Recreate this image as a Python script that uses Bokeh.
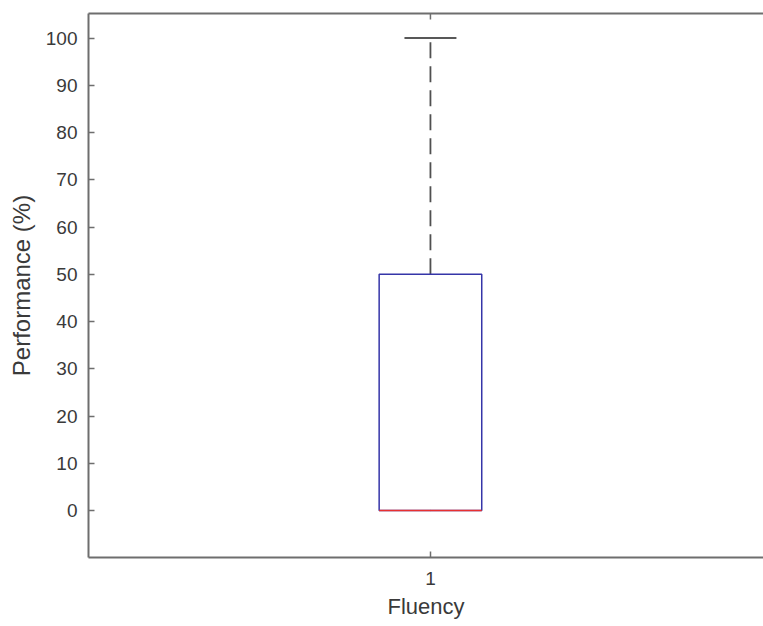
from bokeh.plotting import figure
from bokeh.models import Range1d, LinearAxis, FixedTicker
from bokeh.embed import file_html
from bokeh.resources import INLINE

# ---- data ----
categories = [1]
group_labels = ["1"]
q1 = [0]
median = [0]
q3 = [50]
lower_whisker = [0]
upper_whisker = [100]
y_ticks = [0, 10, 20, 30, 40, 50, 60, 70, 80, 90, 100]

box_half = 0.075
cap_half = 0.038

FONT = "Liberation Sans"
AX_COL = "#6e6e6e"
TXT_COL = "#3a3a3a"

W, H = 763, 626
BL, BR, BT, BB = 88, 0, 13, 69
Y0, Y1 = -9.95, 105.2

p = figure(width=W, height=H, output_backend="svg", toolbar_location=None,
           x_range=Range1d(0.5, 1.487), y_range=Range1d(Y0, Y1),
           min_border_left=BL, min_border_right=BR, min_border_top=BT,
           min_border_bottom=BB)
p.outline_line_color = None
p.grid.visible = False
p.background_fill_color = "white"
p.border_fill_color = "white"

xs = categories
# whiskers and caps
p.segment(x0=xs, x1=xs, y0=lower_whisker, y1=q1, line_color="#454545",
          line_width=1.8, line_dash="16 8")
p.segment(x0=xs, x1=xs, y0=q3, y1=upper_whisker, line_color="#505050",
          line_width=1.8, line_dash="16 8")
p.segment(x0=[x - cap_half for x in xs], x1=[x + cap_half for x in xs],
          y0=upper_whisker, y1=upper_whisker, line_color="#202020", line_width=1.5)
# box
p.quad(left=[x - box_half for x in xs], right=[x + box_half for x in xs],
       bottom=q1, top=q3, fill_color=None, line_color="#3535a8", line_width=1.5)
# median
p.segment(x0=[x - box_half for x in xs], x1=[x + box_half for x in xs],
          y0=median, y1=median, line_color="#e83030", line_width=1.5)

# top tick mark (inward), derived from the y range and frame size
frame_h = H - BT - BB
tick_len = 6 * (Y1 - Y0) / frame_h
p.segment(x0=xs, x1=xs, y0=[Y1] * len(xs), y1=[Y1 - tick_len] * len(xs),
          line_color=AX_COL, line_width=1.5)

# axes styling
for ax in (p.xaxis[0], p.yaxis[0]):
    ax.axis_line_color = AX_COL
    ax.axis_line_width = 2
    ax.major_tick_line_color = AX_COL
    ax.major_tick_line_width = 1.5
    ax.major_tick_in = 6
    ax.major_tick_out = 0
    ax.minor_tick_line_color = None
    ax.major_label_text_font = FONT
    ax.major_label_text_font_size = "19px"
    ax.major_label_text_color = TXT_COL
    ax.axis_label_text_font = FONT
    ax.axis_label_text_color = TXT_COL
    ax.axis_label_text_font_style = "normal"

p.xaxis[0].ticker = FixedTicker(ticks=categories)
p.xaxis[0].major_label_overrides = {c: l for c, l in zip(categories, group_labels)}
p.xaxis[0].axis_label = "Fluency"
p.xaxis[0].axis_label_text_font_size = "22px"
p.xaxis[0].major_label_standoff = 14
p.xaxis[0].axis_label_standoff = 6

p.yaxis[0].ticker = FixedTicker(ticks=y_ticks)
p.yaxis[0].axis_label = "Performance (%)"
p.yaxis[0].axis_label_text_font_size = "24px"
p.yaxis[0].major_label_standoff = 11
p.yaxis[0].axis_label_standoff = 8

top = LinearAxis(ticker=FixedTicker(ticks=[]),
                 axis_line_color=AX_COL, axis_line_width=2,
                 major_tick_line_color=None, minor_tick_line_color=None,
                 major_tick_in=0, major_tick_out=0, major_label_standoff=0)
p.add_layout(top, "above")

open("out.html", "w").write(file_html(p, INLINE))
